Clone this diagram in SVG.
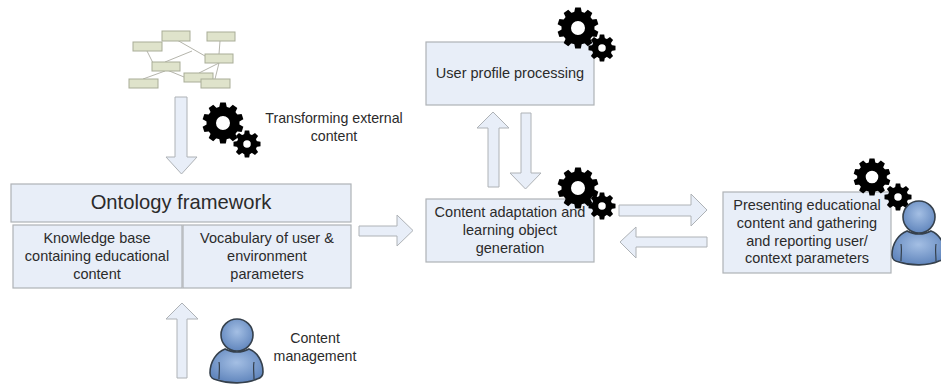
<svg xmlns="http://www.w3.org/2000/svg" width="941" height="386" viewBox="0 0 941 386">
<style>
text{font-family:"Liberation Sans",Arial,sans-serif;font-size:14.500px;fill:#2b2b2b;text-anchor:middle}
.box{fill:#e8eef8;stroke:#aeb2b6;stroke-width:1.2}
.arr{fill:#e8eef8;stroke:#aeb2b6;stroke-width:1}
.n{fill:#dfe3cb;stroke:#a9ad98;stroke-width:1}
.l{stroke:#b5b5ac;stroke-width:1;fill:none}
.g{fill:none;stroke:#000}
</style>
<defs>
<radialGradient id="pg" cx="50%" cy="40%" r="60%"><stop offset="0" stop-color="#a4bfe4"/><stop offset="1" stop-color="#6186bd"/></radialGradient>
<path id="tb" d="M-4,-14.500L-2.800,-20.500H2.800L4,-14.500Z"/>
<path id="ts" d="M-3,-9L-2.200,-13.500H2.200L3,-9Z"/>
<g id="gearB"><circle class="g" r="11.750" stroke-width="9.500"/>
<use href="#tb"/><use href="#tb" transform="rotate(36)"/><use href="#tb" transform="rotate(72)"/><use href="#tb" transform="rotate(108)"/><use href="#tb" transform="rotate(144)"/><use href="#tb" transform="rotate(180)"/><use href="#tb" transform="rotate(216)"/><use href="#tb" transform="rotate(252)"/><use href="#tb" transform="rotate(288)"/><use href="#tb" transform="rotate(324)"/></g>
<g id="gearS"><circle class="g" r="7" stroke-width="6.500"/>
<use href="#ts"/><use href="#ts" transform="rotate(45)"/><use href="#ts" transform="rotate(90)"/><use href="#ts" transform="rotate(135)"/><use href="#ts" transform="rotate(180)"/><use href="#ts" transform="rotate(225)"/><use href="#ts" transform="rotate(270)"/><use href="#ts" transform="rotate(315)"/></g>
<g id="person">
<path d="M-12,14 C-20,17 -27,26 -27,38 C-27,43 -24,44 -20,45 C-8,49 9,49 20,44 C24,43 26,41 26,37 C26,26 20,17 12,14 C5,18 -5,18 -12,14Z" fill="url(#pg)" stroke="#35404c" stroke-width="1.6"/>
<path d="M-18,27 C-17,32 -18,38 -18,44 M17,27 C16,32 17,38 17,44" fill="none" stroke="#35404c" stroke-width="1.2"/>
<circle r="16" fill="url(#pg)" stroke="#35404c" stroke-width="1.6"/>
</g>
</defs>

<g id="external-content">
<path class="l" d="M177,40L205,56M147,51L153,63M165,62L192,51M220,41L219,54M165,71L143,79M167,70L184,77M219,63L199,73M219,63L215,79"/>
<rect class="n" x="162" y="31" width="28" height="10"/>
<rect class="n" x="207" y="32" width="28" height="9"/>
<rect class="n" x="133" y="42" width="29" height="9"/>
<rect class="n" x="205" y="54" width="28" height="9"/>
<rect class="n" x="152" y="62" width="28" height="9"/>
<rect class="n" x="129" y="79" width="29" height="9"/>
<rect class="n" x="184" y="73" width="29" height="9"/>
<rect class="n" x="201" y="79" width="29" height="9"/>
</g>

<g id="connectors">
<path class="arr" d="M175,97H187V157H197L181.500,174L166,157H175Z"/>
<path class="arr" d="M177,378H187V319H198L182,303L166,319H177Z"/>
<path class="arr" d="M359,226H397V215L413,230.500L397,246V236H359Z"/>
<path class="arr" d="M488,187H499V128H509L493,112L477,128H488Z"/>
<path class="arr" d="M521,113H531V173H541L525.500,189L510,173H521Z"/>
<path class="arr" d="M619,205H691V194L707,210L691,226V216H619Z"/>
<path class="arr" d="M707,237H636V227L620,242L636,258V247H707Z"/>
</g>

<g id="ontology">
<rect class="box" x="11" y="184" width="340" height="38"/>
<text x="181" y="209" style="font-size:20.200px">Ontology framework</text>
</g>
<g id="knowledge-base">
<rect class="box" x="13" y="225" width="169" height="63"/>
<text x="97" y="243">Knowledge base</text>
<text x="97" y="261">containing educational</text>
<text x="97" y="279">content</text>
</g>
<g id="vocabulary">
<rect class="box" x="183" y="225" width="168" height="63"/>
<text x="267" y="243">Vocabulary of user &amp;</text>
<text x="267" y="261">environment</text>
<text x="267" y="279">parameters</text>
</g>
<g id="user-profile">
<rect class="box" x="426" y="42" width="168" height="63"/>
<text x="510" y="78">User profile processing</text>
</g>
<g id="content-adaptation">
<rect class="box" x="426" y="199" width="168" height="63"/>
<text x="510" y="217">Content adaptation and</text>
<text x="510" y="235">learning object</text>
<text x="510" y="253">generation</text>
</g>
<g id="presenting">
<rect class="box" x="723" y="192" width="168" height="81"/>
<text x="807" y="210">Presenting educational</text>
<text x="807" y="228">content and gathering</text>
<text x="807" y="246">and reporting user/</text>
<text x="807" y="263">context parameters</text>
</g>

<g id="gears-transform"><use href="#gearB" x="223" y="123"/><use href="#gearS" x="247" y="144"/></g>
<g id="gears-profile"><use href="#gearB" x="578" y="28"/><use href="#gearS" x="602" y="48"/></g>
<g id="gears-content"><use href="#gearB" x="578" y="188"/><use href="#gearS" x="602" y="206"/></g>
<g id="gears-presenting"><use href="#gearB" transform="translate(872 177) scale(.9)"/><use href="#gearS" x="898" y="197"/></g>

<g id="label-transform">
<text x="334" y="123" style="font-size:14.200px">Transforming external</text>
<text x="334" y="141" style="font-size:14.200px">content</text>
</g>
<g id="person-content"><use href="#person" x="237" y="335"/></g>
<g id="label-management">
<text x="315" y="343" style="font-size:14.200px">Content</text>
<text x="315" y="361" style="font-size:14.200px">management</text>
</g>
<g id="person-presenting"><use href="#person" x="919" y="217"/></g>
</svg>
